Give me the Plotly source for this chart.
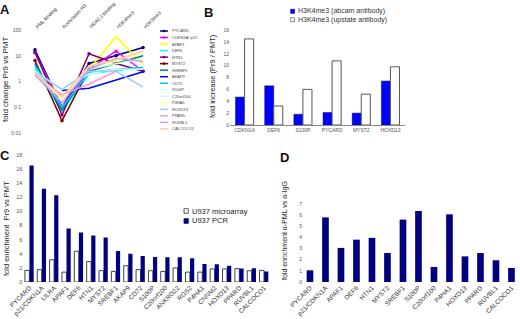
import plotly.graph_objects as go

W, H = 520, 319
FONT = "Arial, Liberation Sans, sans-serif"

# ---------------- Panel A data ----------------
a_conditions = ["PML binding", "Acetylation H3", "HDAC1 binding", "H3K4me3", "H3K9me3"]
a_genes = ["PYCARD", "CDKN1A/ p21", "APAF1", "DEF6", "HTN1", "MYST2", "SREBF1", "AKAP9",
           "CD72", "S100P", "C20orf100", "P4HA1", "HOXD13", "PPARD", "RUVBL1", "CALCOCO1"]
a_pycard = [17, 0.1, 5, 10, 21]
a_cdkn1a = [13, 0.1, 3, 15, 2.5]
a_apaf1 = [None, None, 3, 55, 4.5]
a_def6 = [3, 0.07, 2.0, 2.7, 3.5]
a_htn1 = [14, 0.05, 12, 5, 2.5]
a_myst2 = [6.5, 0.03, 3, None, None]
a_srebf1 = [5, 0.08, 2.5, 5, 10]
a_akap9 = [None, 0.45, 0.55, None, 2.4]
a_cd72 = [4, 0.1, 2.2, 3, 3.5]
a_s100p = [2.5, 0.5, 2, 3, 3]
a_c20orf100 = [2, 0.2, 3, 5, 8]
a_p4ha1 = [2.5, 0.2, 4, 6, 15]
a_hoxd13 = [2.2, 0.5, 2.5, 2.5, 0.6]
a_ppard = [1.8, 0.3, 0.8, 2.5, None]
a_ruvbl1 = [1.8, 0.15, 3, 8, 6]
a_calcoco1 = [2, 0.25, 4, 7, 15]
a_values = [a_pycard, a_cdkn1a, a_apaf1, a_def6, a_htn1, a_myst2, a_srebf1, a_akap9,
            a_cd72, a_s100p, a_c20orf100, a_p4ha1, a_hoxd13, a_ppard, a_ruvbl1, a_calcoco1]
a_colors = ["#000080", "#FF00FF", "#FFFF00", "#00FFFF", "#800080", "#800000", "#008080", "#0000FF",
            "#00CCFF", "#CCFFFF", "#CCFFCC", "#FFFF99", "#99CCFF", "#FF99CC", "#CC99FF", "#FFCC99"]
a_markers = [True, True, False, False, True, True, False, False,
             False, False, False, False, False, False, False, False]
a_ticks = [0.01, 0.1, 1, 10, 100]
a_ticktext = ["0.01", "0.1", "1", "10", "100"]

# ---------------- Panel B data ----------------
b_genes = ["CDKN1A", "DEF6", "S100P", "PYCARD", "MYST2", "HOXD13"]
b_abcam = [4.7, 6.6, 1.8, 2.1, 2.0, 7.4]
b_upstate = [14.5, 3.2, 6.0, 10.8, 5.2, 9.8]
b_series = ["H3K4me3 (abcam antibody)", "H3K4me3 (upstate antibody)"]

# ---------------- Panel C data ----------------
c_genes = ["PYCARD", "p21/CDKN1A", "LILRA", "APAF1", "DEF6", "HTN1", "MYST2", "SREBF1", "AKAP9",
           "CD72", "S100P", "C20orf100", "ANKRD22", "RGS2", "P4HA1", "CNNM2", "HOXD13", "PPARD",
           "RUVBL1", "CALCOCO1"]
c_microarray = [1.65, 1.75, 3.15, 1.4, 4.35, 2.9, 1.6, 1.5, 2.3, 1.75, 1.6, 1.5, 2.0, 1.4, 1.4,
                1.85, 1.85, 1.9, 1.6, 1.65]
c_pcr = [16.5, 13.2, 12.3, 7.6, 7.0, 6.6, 6.3, 4.4, 4.0, 3.7, 3.55, 3.5, 3.5, 3.35, 2.55, 2.5,
         2.3, 1.9, 1.95, 1.5]
c_series = ["U937 microarray", "U937 PCR"]

# ---------------- Panel D data ----------------
d_genes = ["PYCARD", "p21/CDKN1A", "APAF1", "DEF6", "HTN1", "MYST2", "SREBF1", "S100P",
           "C20orf100", "P4HA1", "HOXD13", "PPARD", "RUVBL1", "CALCOCO1"]
d_values = [1.05, 5.8, 3.06, 3.8, 3.96, 2.6, 5.6, 6.37, 1.35, 6.07, 2.3, 2.6, 1.95, 1.26]


def px(x):
    return x / W


def py(y):
    return 1 - y / H


fig = go.Figure()
NAVY = "#000080"

# Panel A lines
for name, vals, col, mk in zip(a_genes, a_values, a_colors, a_markers):
    fig.add_trace(go.Scatter(
        x=a_conditions, y=vals, mode="lines+markers" if mk else "lines",
        line=dict(color=col, width=1.5), marker=dict(size=3.5, color=col),
        connectgaps=True, showlegend=False, xaxis="x", yaxis="y", name=name))

# Panel B bars
fig.add_trace(go.Bar(x=b_genes, y=b_abcam, xaxis="x2", yaxis="y2", width=0.31, offset=-0.31,
                     marker=dict(color="#0000FF", line=dict(color="#000080", width=0.5)),
                     showlegend=False, name=b_series[0]))
fig.add_trace(go.Bar(x=b_genes, y=b_upstate, xaxis="x2", yaxis="y2", width=0.31, offset=0,
                     marker=dict(color="white", line=dict(color="#555555", width=1)),
                     showlegend=False, name=b_series[1]))

# Panel C bars
fig.add_trace(go.Bar(x=c_genes, y=c_microarray, xaxis="x3", yaxis="y3", width=0.36, offset=-0.37,
                     marker=dict(color="white", line=dict(color="#444444", width=1)),
                     showlegend=False, name=c_series[0]))
fig.add_trace(go.Bar(x=c_genes, y=c_pcr, xaxis="x3", yaxis="y3", width=0.34, offset=0.0,
                     marker=dict(color=NAVY, line=dict(width=0)),
                     showlegend=False, name=c_series[1]))

# Panel D bars
fig.add_trace(go.Bar(x=d_genes, y=d_values, xaxis="x4", yaxis="y4", width=0.43,
                     marker=dict(color=NAVY, line=dict(width=0)), showlegend=False))

tickfont_small = dict(family=FONT, size=5, color="#555555")
tickfont_rot = dict(family=FONT, size=6.5, color="#333333")
common = dict(automargin=False, showgrid=False, zeroline=False, fixedrange=True)

fig.update_layout(
    width=W, height=H, margin=dict(l=0, r=0, t=0, b=0, pad=0, autoexpand=False),
    paper_bgcolor="white", plot_bgcolor="white", barmode="overlay",
    font=dict(family=FONT, color="#222222"),
    xaxis=dict(domain=[px(22), px(152)], range=[-0.48, 4.33], showticklabels=False,
               showline=False, ticks="", **common),
    yaxis=dict(domain=[py(133), py(30)], type="log", range=[-2, 2], tickvals=a_ticks,
               ticktext=a_ticktext, tickfont=tickfont_small, showline=False, ticks="",
               anchor="x", **common),
    xaxis2=dict(domain=[px(230), px(405)], anchor="y2", tickfont=tickfont_small, ticks="",
                showline=True, linecolor="#888888", linewidth=1, **common),
    yaxis2=dict(domain=[py(125), py(30)], anchor="x2", range=[0, 16], dtick=2,
                tickfont=tickfont_small, showline=False, ticks="", **common),
    xaxis3=dict(domain=[px(23.3), px(270.3)], anchor="y3", range=[-0.5, 19.5], tickangle=-45,
                tickfont=tickfont_rot, ticks="", showline=False, **common),
    yaxis3=dict(domain=[py(282), py(155)], anchor="x3", range=[0, 18], dtick=2,
                tickfont=dict(family=FONT, size=5.5, color="#555555"), showline=False,
                ticks="", **common),
    xaxis4=dict(domain=[px(303), 1], anchor="y4", range=[-0.45, 13.55], tickangle=-45,
                tickfont=tickfont_rot, ticks="", showline=False, **common),
    yaxis4=dict(domain=[py(282), py(204)], anchor="x4", range=[0, 7], dtick=1,
                tickfont=tickfont_small, showline=False, ticks="", **common),
)

shapes = []
ann = []

# faint reference line at 1 in panel A
shapes.append(dict(type="line", xref="x domain", yref="y", x0=0, x1=1, y0=0, y1=0,
                   line=dict(color="#e4e4e4", width=1), layer="below"))

# Panel A column headers
for i, cond in enumerate(a_conditions):
    ann.append(dict(text=cond, xref="x", yref="paper", x=i - 0.1, y=py(31), textangle=-45,
                    xanchor="left", yanchor="bottom", showarrow=False, borderpad=0,
                    font=dict(family=FONT, size=5, color="#333333")))

# Panel A legend
for i, (name, col, mk) in enumerate(zip(a_genes, a_colors, a_markers)):
    yy = 31 + i * 6.53
    shapes.append(dict(type="line", xref="paper", yref="paper", x0=px(160), x1=px(168),
                       y0=py(yy), y1=py(yy), line=dict(color=col, width=1.5)))
    if mk:
        shapes.append(dict(type="circle", xref="paper", yref="paper", x0=px(162.7), x1=px(165.3),
                           y0=py(yy + 1.3), y1=py(yy - 1.3), fillcolor=col, line=dict(width=0)))
    ann.append(dict(text=name, xref="paper", yref="paper", x=px(170), y=py(yy), xanchor="left",
                    yanchor="middle", showarrow=False,
                    font=dict(family=FONT, size=4, color="#444444")))

# Panel B legend
b_fill = ["#0000FF", "white"]
b_line = ["#000080", "#555555"]
for i, (name, fc, lc) in enumerate(zip(b_series, b_fill, b_line)):
    yc = 11.3 + i * 8.4
    shapes.append(dict(type="rect", xref="paper", yref="paper", x0=px(290.7), x1=px(294.5),
                       y0=py(yc + 2), y1=py(yc - 2), fillcolor=fc, line=dict(color=lc, width=0.7)))
    ann.append(dict(text=name, xref="paper", yref="paper", x=px(295.5), y=py(yc), xanchor="left",
                    yanchor="middle", showarrow=False,
                    font=dict(family=FONT, size=7, color="#333333")))

# Panel C legend
c_fill = ["white", NAVY]
c_line = ["#333333", NAVY]
for i, (name, fc, lc) in enumerate(zip(c_series, c_fill, c_line)):
    yc = 211 + i * 10
    shapes.append(dict(type="rect", xref="paper", yref="paper", x0=px(184), x1=px(188.3),
                       y0=py(yc + 2.3), y1=py(yc - 2.3), fillcolor=fc, line=dict(color=lc, width=0.8)))
    ann.append(dict(text=name, xref="paper", yref="paper", x=px(189.5), y=py(yc), xanchor="left",
                    yanchor="middle", showarrow=False,
                    font=dict(family=FONT, size=7.5, color="#222222")))

# Axis titles
titles = [("fold change Pr9 vs PMT", 6, 80, 8),
          ("fold increase (Pr9 / PMT)", 212, 76, 7.5),
          ("fold enrichment  Pr9 vs PMT", 6, 229, 7.5),
          ("fold enrichment α-PML vs α-IgG", 285, 231, 7)]
for t, xx, yy, fs in titles:
    ann.append(dict(text=t, xref="paper", yref="paper", x=px(xx), y=py(yy), textangle=-90,
                    xanchor="center", yanchor="middle", showarrow=False,
                    font=dict(family=FONT, size=fs, color="#222222")))

# Panel letters
for letter, xx, yy in [("A", 4.5, 10), ("B", 208.5, 13), ("C", 4.5, 155), ("D", 284.5, 157)]:
    ann.append(dict(text="<b>%s</b>" % letter, xref="paper", yref="paper", x=px(xx), y=py(yy),
                    xanchor="center", yanchor="middle", showarrow=False,
                    font=dict(family=FONT, size=13, color="#111111")))

fig.update_layout(shapes=shapes, annotations=ann)
fig.write_html("out.html", config={"displayModeBar": False, "staticPlot": True},
               post_script="document.body.style.margin='0';document.body.style.padding='0';"
                           "document.documentElement.style.overflow='hidden';")
